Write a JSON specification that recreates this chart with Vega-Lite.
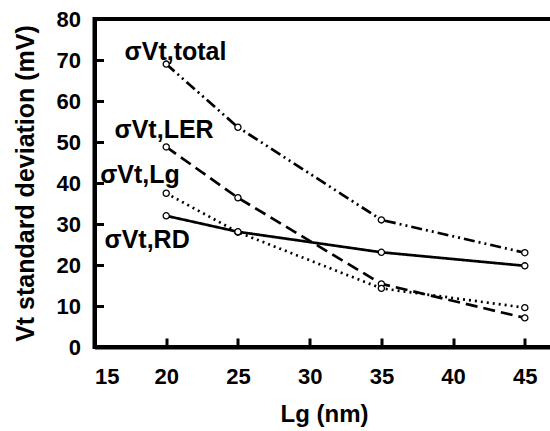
{
  "$schema": "https://vega.github.io/schema/vega-lite/v6.json",
  "width": 459,
  "height": 328,
  "autosize": {"type": "none"},
  "padding": {"left": 94.5, "top": 19, "right": 0, "bottom": 84},
  "config": {
    "view": {"stroke": "black", "strokeWidth": 4},
    "font": "Liberation Sans",
    "axis": {
      "domainColor": "black", "domainWidth": 4, "tickColor": "black", "tickWidth": 3,
      "grid": false, "labelFont": "Liberation Sans", "labelFontSize": 22, "labelFontWeight": "bold",
      "labelColor": "black", "titleFont": "Liberation Sans",
      "titleFontWeight": "bold", "titleColor": "black"
    }
  },
  "datasets": {
    "series": [
      {"lg": 20, "sd": 69.0, "s": "total"},
      {"lg": 25, "sd": 53.6, "s": "total"},
      {"lg": 35, "sd": 31.0, "s": "total"},
      {"lg": 45, "sd": 23.0, "s": "total"},
      {"lg": 20, "sd": 48.8, "s": "LER"},
      {"lg": 25, "sd": 36.4, "s": "LER"},
      {"lg": 35, "sd": 15.4, "s": "LER"},
      {"lg": 45, "sd": 7.1, "s": "LER"},
      {"lg": 20, "sd": 37.5, "s": "Lg"},
      {"lg": 25, "sd": 28.0, "s": "Lg"},
      {"lg": 35, "sd": 14.3, "s": "Lg"},
      {"lg": 45, "sd": 9.6, "s": "Lg"},
      {"lg": 20, "sd": 32.0, "s": "RD"},
      {"lg": 25, "sd": 28.1, "s": "RD"},
      {"lg": 35, "sd": 23.1, "s": "RD"},
      {"lg": 45, "sd": 19.8, "s": "RD"}
    ],
    "labels": [
      {"lg": 17.1, "sd": 70.0, "t": "σVt,total"},
      {"lg": 16.4, "sd": 50.9, "t": "σVt,LER"},
      {"lg": 15.4, "sd": 39.9, "t": "σVt,Lg"},
      {"lg": 15.7, "sd": 24.1, "t": "σVt,RD"}
    ]
  },
  "layer": [
    {
      "data": {"name": "series"},
      "mark": {"type": "line", "color": "black", "strokeWidth": 2.7},
      "encoding": {
        "x": {"field": "lg", "type": "quantitative", "scale": {"domain": [15, 47], "nice": false},
          "axis": {"values": [15, 20, 25, 30, 35, 40, 45], "tickSize": -9, "labelPadding": 28, "title": "Lg (nm)", "titleFontSize": 24, "titlePadding": 15}},
        "y": {"field": "sd", "type": "quantitative", "scale": {"domain": [0, 80], "nice": false},
          "axis": {"values": [0, 10, 20, 30, 40, 50, 60, 70, 80], "tickSize": -9, "labelPadding": 23, "title": "Vt standard deviation (mV)", "titleFontSize": 25, "titlePadding": 18}},
        "detail": {"field": "s"},
        "strokeDash": {"field": "s", "type": "nominal", "legend": null,
          "scale": {"domain": ["total", "LER", "Lg", "RD"], "range": [[11, 4, 2, 4, 2, 4], [12, 6], [2, 4], [1, 0]]}}
      }
    },
    {
      "data": {"name": "series"},
      "mark": {"type": "point", "shape": "circle", "size": 38, "filled": true, "fill": "white", "stroke": "black", "strokeWidth": 1.3, "opacity": 1},
      "encoding": {
        "x": {"field": "lg", "type": "quantitative"},
        "y": {"field": "sd", "type": "quantitative"}
      }
    },
    {
      "data": {"name": "labels"},
      "mark": {"type": "text", "align": "left", "baseline": "alphabetic", "fontSize": 25, "fontWeight": "bold", "font": "Liberation Sans", "color": "black"},
      "encoding": {
        "x": {"field": "lg", "type": "quantitative"},
        "y": {"field": "sd", "type": "quantitative"},
        "text": {"field": "t"}
      }
    }
  ]
}
